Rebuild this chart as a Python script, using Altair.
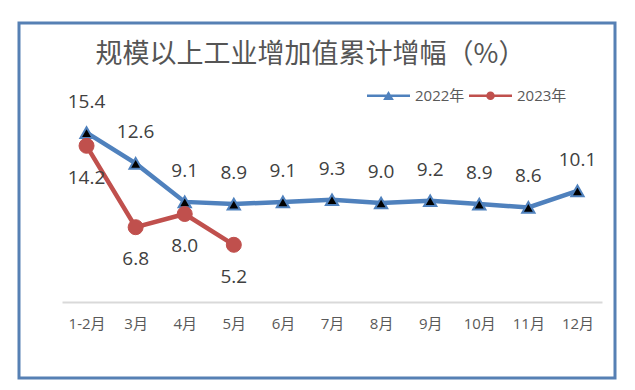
import altair as alt
import pandas as pd

months = ["1-2月", "3月", "4月", "5月", "6月", "7月", "8月", "9月", "10月", "11月", "12月"]
v2022 = [15.4, 12.6, 9.1, 8.9, 9.1, 9.3, 9.0, 9.2, 8.9, 8.6, 10.1]
v2023 = [14.2, 6.8, 8.0, 5.2]
series = ["2022年", "2023年"]
colors = ["#4F81BD", "#C0504D"]
title_text = "规模以上工业增加值累计增幅（%）"

rows = []
for m, v in zip(months, v2022):
    rows.append({"month": m, "value": v, "series": series[0]})
for m, v in zip(months, v2023):
    rows.append({"month": m, "value": v, "series": series[1]})
df = pd.DataFrame(rows)

FONT = "Open Sans, Noto Sans CJK SC"
CJK = "Noto Sans CJK SC"

x = alt.X("month:N", sort=months, scale=alt.Scale(type="point", padding=0.5),
          axis=alt.Axis(title=None, labelAngle=0, ticks=False, domainColor="#D9D9D9",
                        domainWidth=2, labelFont=FONT, labelFontSize=15,
                        labelColor="#595959", labelPadding=14, grid=False))
y = alt.Y("value:Q", scale=alt.Scale(domain=[0, 18], nice=False, zero=True), axis=None)
col_scale = alt.Scale(domain=series, range=colors)

shape_2022 = "M-1,-0.06H1V0.06H-1Z M0,-0.22L0.25,0.2H-0.25Z"
shape_2023 = "M-1,-0.06H1V0.06H-1Z M-0.2,0A0.2,0.2 0 1,1 0.2,0A0.2,0.2 0 1,1 -0.2,0Z"

legend = alt.Legend(
    orient="none", legendX=305, legendY=-30, direction="horizontal", title=None,
    symbolSize=1849, labelFontSize=15, labelFont=FONT, labelColor="#595959",
    labelOffset=5, columnPadding=4, padding=0, symbolStrokeWidth=0, symbolOpacity=1)

base = alt.Chart(df)

lines = base.mark_line(strokeWidth=4.5).encode(
    x=x, y=y, color=alt.Color("series:N", scale=col_scale, legend=legend))

tri = base.transform_filter(alt.datum.series == series[0]).mark_point(
    shape="triangle-up", filled=True, fill="#000000", stroke=colors[0],
    strokeWidth=2, size=150, opacity=1).encode(x=x, y=y)
circ = base.transform_filter(alt.datum.series == series[1]).mark_point(
    shape="circle", filled=True, fill=colors[1], stroke=colors[1],
    strokeWidth=1, size=225, opacity=1).encode(x=x, y=y)

legend_layer = base.mark_point(filled=True, opacity=0).encode(
    x=x, y=y,
    color=alt.Color("series:N", scale=col_scale, legend=legend),
    shape=alt.Shape("series:N", scale=alt.Scale(domain=series, range=[shape_2022, shape_2023]),
                    legend=legend))

lab22 = base.transform_filter(alt.datum.series == series[0]).mark_text(
    dy=-31, fontSize=19, font=FONT, color="#404040").encode(
    x=x, y=y, text=alt.Text("value:Q", format=".1f"))
lab23 = base.transform_filter(alt.datum.series == series[1]).mark_text(
    dy=32, fontSize=19, font=FONT, color="#404040").encode(
    x=x, y=y, text=alt.Text("value:Q", format=".1f"))

one = alt.Chart(pd.DataFrame({"t": [title_text]}))
border = one.mark_rect(filled=False, stroke="#5680B4", strokeWidth=3).encode(
    x=alt.value(-43), x2=alt.value(553), y=alt.value(-81), y2=alt.value(274))
title = one.mark_text(font=CJK, fontSize=27, color="#555555", align="center",
                      baseline="middle").encode(
    x=alt.value(248.5), y=alt.value(-49), text="t:N")

chart = alt.layer(border, title, lines, tri, circ, legend_layer, lab22, lab23).properties(
    width=540, height=198,
    autosize=alt.AutoSizeParams(type="none"),
    padding={"left": 54, "top": 96, "right": 25, "bottom": 80},
).configure_view(stroke=None)

chart.save("out.html", embed_options={"renderer": "svg", "actions": False})
